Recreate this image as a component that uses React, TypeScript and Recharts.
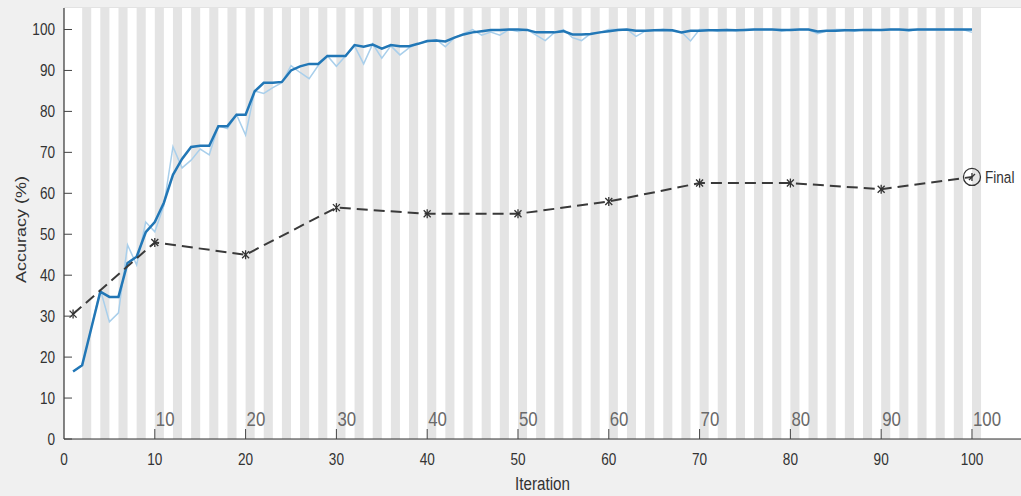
import React from "react";
import {
  ComposedChart,
  Line,
  XAxis,
  YAxis,
  CartesianGrid,
  ReferenceArea,
  ReferenceLine,
} from "recharts";

// smoothed training accuracy, iterations 1..100
const smoothedAcc = [
  16.5, 18, 27, 36, 34.7, 34.7, 43, 44.5, 50.5, 53,
  57.7, 64.5, 68.4, 71.3, 71.6, 71.6, 76.4, 76.4, 79.2, 79.2,
  84.9, 87, 87, 87.2, 90, 91, 91.6, 91.6, 93.5, 93.5,
  93.5, 96.2, 95.8, 96.3, 95.3, 96.2, 95.9, 95.9, 96.5, 97.2,
  97.3, 97.1, 98, 98.8, 99.3, 99.6, 99.9, 99.9, 100, 100,
  99.9, 99.3, 99.3, 99.3, 99.6, 98.8, 98.8, 98.9, 99.3, 99.6,
  99.9, 100, 99.7, 99.7, 99.8, 99.9, 99.8, 99.3, 99.7, 99.7,
  99.8, 99.8, 99.9, 99.8, 99.9, 100, 100, 100, 99.9, 99.9,
  100, 100, 99.5, 99.7, 99.7, 99.8, 99.8, 99.9, 99.9, 99.9,
  100, 100, 99.9, 100, 100, 100, 100, 100, 100, 100,
];

// raw training accuracy, iterations 1..100
const rawAcc = [
  16.5, 18, 27, 36.5, 28.6, 30.8, 47.4, 42.5, 53, 50.6,
  57, 71.4, 66.2, 68.1, 70.8, 69.4, 76.5, 75.8, 79.2, 74.2,
  85, 84.4, 85.8, 87, 91.2, 89.5, 88, 91.2, 93.6, 91,
  93.5, 96, 91.6, 96.5, 93, 96, 93.8, 95.5, 96.6, 97,
  97.5, 95.8, 98, 99, 100, 98.6, 99.4, 98.6, 100, 99.5,
  100, 98.6, 97.3, 99.2, 100, 98, 97.3, 99, 99.2, 100,
  100, 100, 98.3, 99.6, 99.8, 100, 99.6, 99.4, 97.2, 100,
  100, 99.6, 100, 99.7, 100, 100, 100, 100, 99.6, 100,
  100, 100, 99, 99.6, 100, 100, 99.6, 100, 100, 99.8,
  100, 100, 99.6, 100, 100, 100, 100, 100, 100, 99.3,
];

const valIters = [1, 10, 20, 30, 40, 50, 60, 70, 80, 90, 100];
const valAcc = [30.5, 48, 45, 56.5, 55, 55, 58, 62.5, 62.5, 61, 64];

const xTicks = [0, 10, 20, 30, 40, 50, 60, 70, 80, 90, 100];
const yTicks = [0, 10, 20, 30, 40, 50, 60, 70, 80, 90, 100];
const epochLabels = [10, 20, 30, 40, 50, 60, 70, 80, 90, 100];
// shaded epoch bands start at these iterations (one iteration wide)
const bandStarts = [
  2, 4, 6, 8, 10, 12, 14, 16, 18, 20, 22, 24, 26, 28, 30, 32, 34, 36, 38, 40,
  42, 44, 46, 48, 50, 52, 54, 56, 58, 60, 62, 64, 66, 68, 70, 72, 74, 76, 78, 80,
  82, 84, 86, 88, 90, 92, 94, 96, 98, 100,
];

const X_MAX = 105.4;
const Y_MAX = 105.25;
const FONT = "'Liberation Sans', Arial, Helvetica, sans-serif";

const rows = smoothedAcc.map((v, i) => ({ iter: i + 1, smooth: v, raw: rawAcc[i] }));
const valRows = valIters.map((it, i) => ({ iter: it, val: valAcc[i] }));

// the reference text looks squeezed horizontally
function SText({ x, y, size, anchor = "middle", fill = "#333", rotate = 0, children }: any) {
  return (
    <text
      transform={`translate(${x} ${y}) scale(0.8 1)${rotate ? ` rotate(${rotate})` : ""}`}
      fontSize={size}
      textAnchor={anchor}
      fill={fill}
      fontFamily={FONT}
    >
      {children}
    </text>
  );
}

function XTick({ x, y, payload }: any) {
  return (
    <g>
      {payload.value > 0 && <line x1={x} x2={x} y1={y} y2={y - 10} stroke="#444" strokeWidth={1} />}
      <SText x={x} y={y + 26} size={17} fill="#333">
        {payload.value}
      </SText>
    </g>
  );
}

function YTick({ x, y, payload }: any) {
  return (
    <g>
      <line x1={x} x2={x + 8} y1={y} y2={y} stroke="#444" strokeWidth={1} />
      <SText x={x - 9} y={y + 6} size={17} anchor="end" fill="#333">
        {payload.value}
      </SText>
    </g>
  );
}

function EpochLabel({ viewBox, value }: any) {
  if (!viewBox) return null;
  return (
    <SText x={viewBox.x + 1} y={viewBox.y + viewBox.height - 13} size={21} anchor="start" fill="#6a6a6a">
      {value}
    </SText>
  );
}

function ValDot({ cx, cy, payload }: any) {
  if (cx == null || cy == null) return <g />;
  if (payload.iter === 100) {
    return (
      <g>
        <circle cx={cx} cy={cy} r={8.5} fill="none" stroke="#333" strokeWidth={1.3} />
        <line x1={cx - 3} x2={cx + 3} y1={cy + 3} y2={cy - 3} stroke="#333" strokeWidth={1.3} />
        <line x1={cx} x2={cx} y1={cy - 4} y2={cy + 4} stroke="#333" strokeWidth={1.3} />
        <SText x={cx + 13} y={cy + 6} size={17} anchor="start" fill="#333">
          Final
        </SText>
      </g>
    );
  }
  return (
    <g stroke="#333" strokeWidth={1.3}>
      <line x1={cx - 3.5} x2={cx + 3.5} y1={cy - 3.5} y2={cy + 3.5} />
      <line x1={cx - 3.5} x2={cx + 3.5} y1={cy + 3.5} y2={cy - 3.5} />
      <line x1={cx} x2={cx} y1={cy - 4.5} y2={cy + 4.5} />
    </g>
  );
}

function XLabel({ viewBox }: any) {
  if (!viewBox) return null;
  return (
    <SText x={viewBox.x + viewBox.width / 2} y={490} size={19} fill="#333">
      Iteration
    </SText>
  );
}

function YLabel({ viewBox }: any) {
  if (!viewBox) return null;
  return (
    <SText x={26} y={viewBox.y + viewBox.height / 2 + 6} size={18} rotate={-90} fill="#333">
      Accuracy (%)
    </SText>
  );
}

export default function App() {
  return (
    <div style={{ position: "absolute", left: 0, top: 0, width: 1021, height: 496, background: "#f0f0f0" }}>
      <ComposedChart width={1021} height={496} data={rows} margin={{ top: 8, right: 0, bottom: 5, left: 0 }}>
        <ReferenceArea x1={0} x2={X_MAX} fill="#ffffff" fillOpacity={1} stroke="none" />
        {bandStarts.map((b) => (
          <ReferenceArea key={b} x1={b} x2={b + 1} fill="#e4e4e4" fillOpacity={1} stroke="none" />
        ))}
        <CartesianGrid vertical={false} stroke="#d6d6d6" />
        <XAxis
          type="number"
          dataKey="iter"
          domain={[0, X_MAX]}
          ticks={xTicks}
          interval={0}
          height={52}
          tickSize={0}
          tickMargin={0}
          tickLine={false}
          tick={<XTick />}
          axisLine={{ stroke: "#333", strokeWidth: 1.2 }}
          allowDataOverflow
          label={<XLabel />}
        />
        <YAxis
          type="number"
          domain={[0, Y_MAX]}
          ticks={yTicks}
          interval={0}
          width={64}
          tickSize={0}
          tickMargin={0}
          tickLine={false}
          tick={<YTick />}
          axisLine={{ stroke: "#333", strokeWidth: 1.2 }}
          allowDataOverflow
          label={<YLabel />}
        />
        {epochLabels.map((e) => (
          <ReferenceLine key={e} x={e} stroke="none" label={<EpochLabel value={e} />} />
        ))}
        <Line
          type="linear"
          dataKey="raw"
          stroke="#a9cfeb"
          strokeWidth={1.5}
          dot={false}
          isAnimationActive={false}
        />
        <Line
          type="linear"
          dataKey="smooth"
          stroke="#2277b6"
          strokeWidth={2.5}
          dot={false}
          isAnimationActive={false}
        />
        <Line
          type="linear"
          data={valRows}
          dataKey="val"
          stroke="#3a3a3a"
          strokeWidth={2}
          strokeDasharray="11 6"
          dot={<ValDot />}
          isAnimationActive={false}
        />
      </ComposedChart>
    </div>
  );
}
